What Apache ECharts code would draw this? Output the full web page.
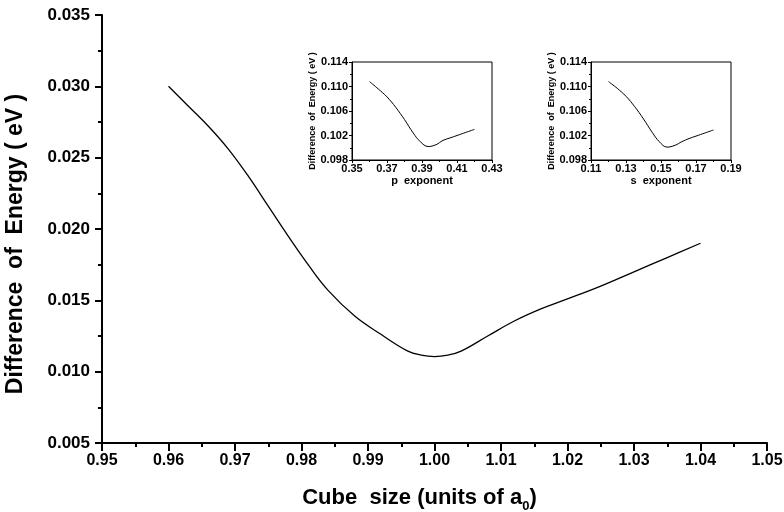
<!DOCTYPE html>
<html>
<head>
<meta charset="utf-8">
<script src="https://cdn.jsdelivr.net/npm/echarts@6/dist/echarts.min.js"></script>
<style>html,body{margin:0;padding:0;background:#fff}#c{width:784px;height:512px}</style>
</head>
<body>
<div id="c"></div>
<script>
// Main curve: cube size vs energy difference
const mainX = [0.960,0.963,0.966,0.969,0.972,0.975,0.978,0.981,0.984,0.988,0.992,0.996,0.998,1.000,1.002,1.004,1.008,1.012,1.016,1.020,1.025,1.030,1.035,1.040];
const mainY = [0.0300,0.0286,0.0272,0.0256,0.0237,0.0216,0.0195,0.0175,0.0157,0.0139,0.0126,0.01144,0.01116,0.01106,0.01116,0.01144,0.01250,0.01355,0.01440,0.01510,0.0160,0.0170,0.0180,0.0190];
// Inset 1: p exponent
const pX = [0.360,0.365,0.370,0.375,0.380,0.385,0.389,0.3935,0.398,0.402,0.406,0.410,0.415,0.420];
const pY = [0.1108,0.1096,0.1083,0.1066,0.1046,0.1024,0.1010,0.1002,0.1005,0.1012,0.1016,0.1020,0.1025,0.1030];
// Inset 2: s exponent
const sX = [0.120,0.125,0.130,0.135,0.140,0.145,0.149,0.1535,0.158,0.162,0.166,0.170,0.175,0.180];
const sY = [0.1108,0.1097,0.1084,0.1067,0.1047,0.1025,0.1010,0.1001,0.1004,0.1010,0.1015,0.1019,0.1024,0.1029];
// Tick labels
const mainXTicks = [0.95,0.96,0.97,0.98,0.99,1.00,1.01,1.02,1.03,1.04,1.05];
const mainYTicks = [0.005,0.010,0.015,0.020,0.025,0.030,0.035];
const pXTicks = [0.35,0.37,0.39,0.41,0.43];
const pXMinor = [0.36,0.38,0.40,0.42];
const sXTicks = [0.11,0.13,0.15,0.17,0.19];
const sXMinor = [0.12,0.14,0.16,0.18];
const insetYTicks = [0.098,0.102,0.106,0.110,0.114];
const insetYMinor = [0.100,0.104,0.108,0.112];

const FONT = "'Liberation Sans', Arial, sans-serif";
const pairs = (xs, ys) => xs.map((x, i) => [x, ys[i]]);

function insetX(grid, ticks, minor, name) {
  return [{
    type: 'value', gridIndex: grid, min: ticks[0], max: ticks[ticks.length - 1],
    position: 'bottom',
    axisLine: { show: true, onZero: false, lineStyle: { color: '#000', width: 1 } },
    axisTick: { show: true, customValues: ticks, length: 3, lineStyle: { color: '#000', width: 1 } },
    axisLabel: { customValues: ticks, color: '#000', fontFamily: FONT, fontWeight: 'bold', fontSize: 11, margin: 3,
      formatter: v => v.toFixed(2) },
    splitLine: { show: false },
    name: name, nameLocation: 'middle', nameGap: 15,
    nameTextStyle: { color: '#000', fontFamily: FONT, fontWeight: 'bold', fontSize: 11 }
  }, {
    type: 'value', gridIndex: grid, min: ticks[0], max: ticks[ticks.length - 1],
    position: 'bottom',
    axisLine: { show: false },
    axisTick: { show: true, customValues: minor, length: 2, lineStyle: { color: '#000', width: 1 } },
    axisLabel: { show: false }, splitLine: { show: false }
  }];
}
function insetY(grid) {
  return [{
    type: 'value', gridIndex: grid, min: 0.098, max: 0.114, position: 'left',
    axisLine: { show: true, onZero: false, lineStyle: { color: '#000', width: 1 } },
    axisTick: { show: true, customValues: insetYTicks, length: 3, lineStyle: { color: '#000', width: 1 } },
    axisLabel: { customValues: insetYTicks, color: '#000', fontFamily: FONT, fontWeight: 'bold', fontSize: 11, margin: 4,
      formatter: v => v.toFixed(3) },
    splitLine: { show: false },
    name: 'Difference  of  Energy ( eV )', nameLocation: 'middle', nameGap: 35,
    nameTextStyle: { color: '#000', fontFamily: FONT, fontWeight: 'bold', fontSize: 9 }
  }, {
    type: 'value', gridIndex: grid, min: 0.098, max: 0.114, position: 'left',
    axisLine: { show: false },
    axisTick: { show: true, customValues: insetYMinor, length: 2, lineStyle: { color: '#000', width: 1 } },
    axisLabel: { show: false }, splitLine: { show: false }
  }];
}

const chart = echarts.init(document.getElementById('c'), null, { renderer: 'canvas' });
const xAxes = [{
  type: 'value', gridIndex: 0, min: mainXTicks[0], max: mainXTicks[mainXTicks.length - 1], interval: 0.01,
  axisLine: { show: true, onZero: false, lineStyle: { color: '#000', width: 2 } },
  axisTick: { show: true, length: 8, lineStyle: { color: '#000', width: 2 } },
  minorTick: { show: true, splitNumber: 2, length: 4, lineStyle: { color: '#000', width: 2 } },
  axisLabel: { color: '#000', fontFamily: FONT, fontWeight: 'bold', fontSize: 16, margin: 10,
    formatter: v => v.toFixed(2) },
  splitLine: { show: false }, minorSplitLine: { show: false },
  name: 'Cube  size (units of a{sub|0})', nameLocation: 'middle', nameGap: 40,
  nameTextStyle: { color: '#000', fontFamily: FONT, fontWeight: 'bold', fontSize: 22, padding: [0, 30, 0, 0],
    rich: { sub: { fontFamily: FONT, fontWeight: 'bold', fontSize: 13, color: '#000', lineHeight: 30, verticalAlign: 'bottom' } } }
}].concat(insetX(1, pXTicks, pXMinor, 'p  exponent'), insetX(2, sXTicks, sXMinor, 's  exponent'));

const yAxes = [{
  type: 'value', gridIndex: 0, min: mainYTicks[0], max: mainYTicks[mainYTicks.length - 1], interval: 0.005,
  axisLine: { show: true, onZero: false, lineStyle: { color: '#000', width: 2 } },
  axisTick: { show: true, length: 7, lineStyle: { color: '#000', width: 2 } },
  minorTick: { show: true, splitNumber: 2, length: 4, lineStyle: { color: '#000', width: 2 } },
  axisLabel: { color: '#000', fontFamily: FONT, fontWeight: 'bold', fontSize: 17, margin: 12,
    formatter: v => v.toFixed(3) },
  splitLine: { show: false }, minorSplitLine: { show: false },
  name: 'Difference  of  Energy ( eV )', nameLocation: 'middle', nameGap: 75,
  nameTextStyle: { color: '#000', fontFamily: FONT, fontWeight: 'bold', fontSize: 23, padding: [0, 30, 0, 0] }
}].concat(insetY(1), insetY(2));

chart.setOption({
  animation: false,
  backgroundColor: '#fff',
  grid: [
    { left: 102, top: 15, width: 665, height: 428, outerBoundsMode: 'none', containLabel: false },
    { left: 352, top: 62, width: 140, height: 98, show: true, borderColor: '#000', borderWidth: 1, backgroundColor: 'transparent', outerBoundsMode: 'none', containLabel: false },
    { left: 591, top: 62, width: 140, height: 98, show: true, borderColor: '#000', borderWidth: 1, backgroundColor: 'transparent', outerBoundsMode: 'none', containLabel: false }
  ],
  xAxis: xAxes,
  yAxis: yAxes,
  series: [
    { type: 'line', xAxisIndex: 0, yAxisIndex: 0, data: pairs(mainX, mainY), smooth: 0.4, showSymbol: false,
      lineStyle: { color: '#000', width: 1.3 } },
    { type: 'line', xAxisIndex: 1, yAxisIndex: 1, data: pairs(pX, pY), smooth: 0.4, showSymbol: false,
      lineStyle: { color: '#000', width: 1 } },
    { type: 'line', xAxisIndex: 3, yAxisIndex: 3, data: pairs(sX, sY), smooth: 0.4, showSymbol: false,
      lineStyle: { color: '#000', width: 1 } }
  ]
});
</script>
</body>
</html>
